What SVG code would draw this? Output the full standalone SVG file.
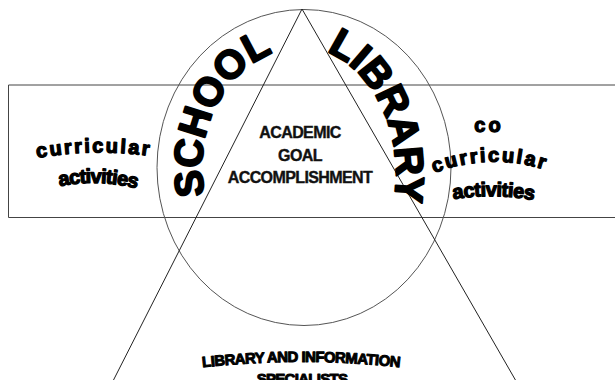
<svg xmlns="http://www.w3.org/2000/svg" width="615" height="380" viewBox="0 0 615 380">
  <style>
    .band { fill: none; stroke: #444; stroke-width: 1; }
    .ring { fill: none; stroke: #555; stroke-width: 1; }
    .edge { fill: none; stroke: #222; stroke-width: 1; }
    .art { font-family: "Liberation Sans", Arial, sans-serif; font-weight: bold; fill: #000; stroke: #000; stroke-linejoin: round; }
    .big { font-size: 40px; stroke-width: 2; }
    .small { font-size: 20px; stroke-width: 1.3; }
    .base { font-size: 15px; stroke-width: 1; letter-spacing: -0.6px; }
    .goal { font-family: "Liberation Sans", Arial, sans-serif; font-weight: bold; font-size: 16px; fill: #111; stroke: #111; stroke-width: 0.4; text-anchor: middle; letter-spacing: -0.6px; }
  </style>
  <defs>
    <!-- baseline arcs for the curved lettering -->
    <path id="arcLeft" d="M 203.5,187.8 A 102,120 0 1 1 404.5,187.8"/>
    <path id="arcRight" d="M 300,47 A 96,128 0 0 1 396,175 A 96,128 0 0 1 390.2,218.8"/>
    <path id="arcCurL" d="M 38,158 Q 94,148 150,156"/>
    <path id="arcActL" d="M 57,187 Q 97,178 139,189"/>
    <path id="arcCurR" d="M 434,173 Q 490,152 546,170"/>
    <path id="arcActR" d="M 449,200 Q 493,192 538,201"/>
    <path id="arcBase" d="M 197,368 Q 301,356 405,368"/>
  </defs>

  <rect x="0" y="0" width="615" height="380" fill="#fff"/>

  <g id="shapes">
    <path class="band" d="M 616,85 H 8.5 V 217.5 H 616"/>
    <ellipse class="ring" cx="304" cy="167.5" rx="147" ry="158"/>
    <path class="edge" d="M 113,381 L 302,9 L 516,381"/>
  </g>

  <g id="school">
    <text class="art big"><textPath href="#arcLeft" startOffset="78" text-anchor="middle">SCHOOL</textPath></text>
  </g>

  <g id="library">
    <text class="art big"><textPath href="#arcRight" startOffset="27">LIBRARY</textPath></text>
  </g>

  <g id="goal">
    <text class="goal" x="300" y="137.5">ACADEMIC</text>
    <text class="goal" x="300" y="160.5">GOAL</text>
    <text class="goal" x="300" y="183">ACCOMPLISHMENT</text>
  </g>

  <g id="curricular">
    <text class="art small" style="letter-spacing:2.2px"><textPath href="#arcCurL" startOffset="50%" text-anchor="middle">curricular</textPath></text>
    <text class="art small" style="letter-spacing:-0.8px"><textPath href="#arcActL" startOffset="50%" text-anchor="middle">activities</textPath></text>
  </g>

  <g id="co-curricular">
    <text class="art small" x="489" y="132" text-anchor="middle" style="letter-spacing:3px">co</text>
    <text class="art small" style="letter-spacing:2.2px"><textPath href="#arcCurR" startOffset="50%" text-anchor="middle">curricular</textPath></text>
    <text class="art small" style="letter-spacing:-0.5px"><textPath href="#arcActR" startOffset="50%" text-anchor="middle">activities</textPath></text>
  </g>

  <g id="specialists">
    <text class="art base"><textPath href="#arcBase" startOffset="50%" text-anchor="middle">LIBRARY AND INFORMATION</textPath></text>
    <text class="art base" x="302" y="383.5" text-anchor="middle" style="letter-spacing:-0.7px">SPECIALISTS</text>
  </g>
</svg>
